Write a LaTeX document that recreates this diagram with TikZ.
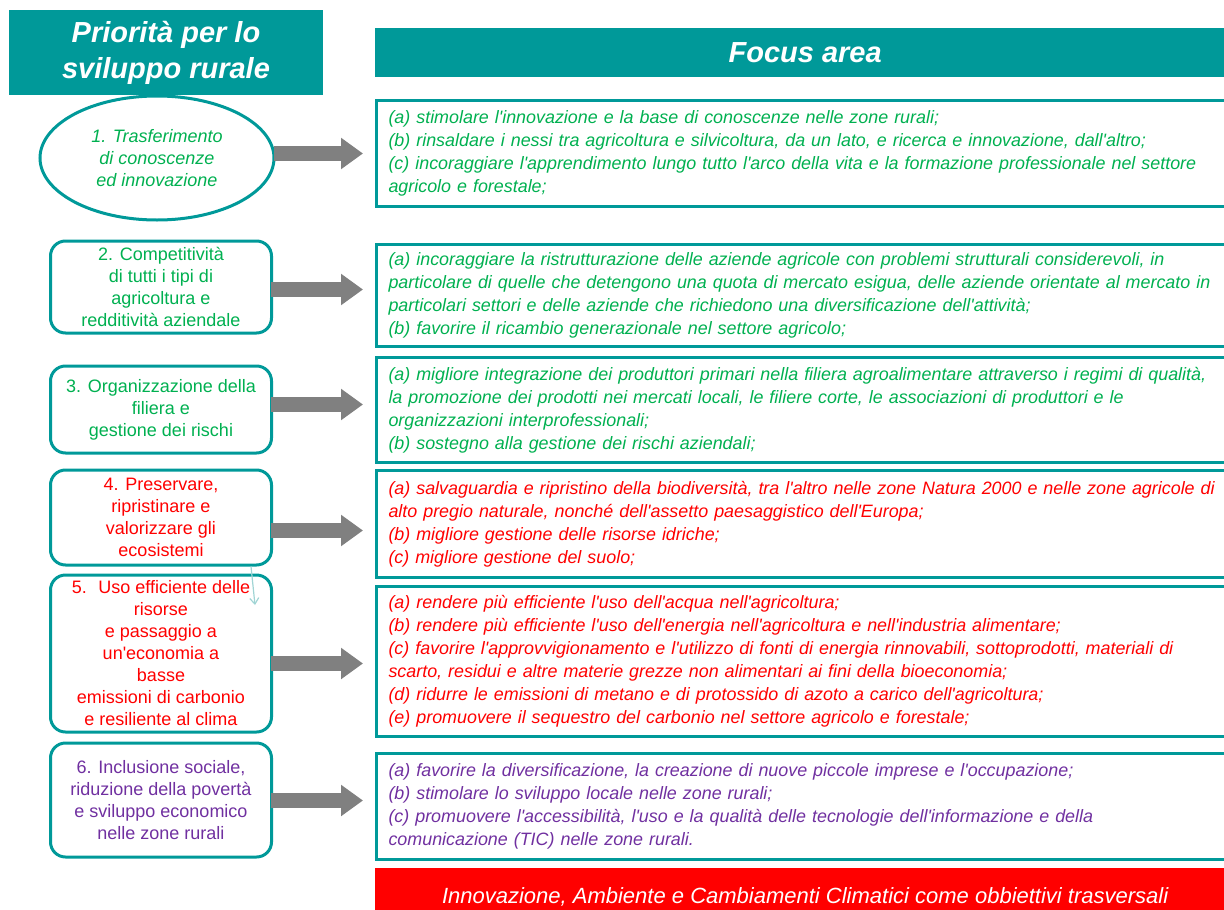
\documentclass[tikz,border=0pt]{standalone}
\usepackage{fontspec}
\setmainfont{Liberation Sans}[Ligatures=TeXOff]
\usetikzlibrary{shapes.geometric,arrows.meta,calc}
\definecolor{tealbox}{RGB}{0,153,153}
\definecolor{txtgreen}{RGB}{0,176,80}
\definecolor{txtred}{RGB}{255,0,0}
\definecolor{txtpurple}{RGB}{112,48,160}
\definecolor{arrgray}{RGB}{128,128,128}
\definecolor{paleteal}{RGB}{160,212,212}
\begin{document}
\begin{tikzpicture}[x=1pt,y=-1pt,
	header/.style={fill=tealbox, text=white, align=center, inner sep=0pt,
		font=\fontsize{29}{36}\selectfont\bfseries\itshape},
	prio/.style={draw=tealbox, line width=3pt, rounded corners=15pt, minimum width=221pt,
		align=center, inner sep=0pt, font=\fontsize{18}{22}\selectfont},
	focus/.style={draw=tealbox, line width=3pt, anchor=north west, text width=900pt,
		inner xsep=12pt, inner ysep=0pt, align=left, font=\fontsize{17.9}{23}\selectfont\itshape},
	bigarrow/.style={arrgray, line width=15pt, -{Triangle[length=22pt,width=30pt]}},
	thinarrow/.style={paleteal, line width=1.2pt, -{Straight Barb[length=6pt,width=9pt]}}]
	\useasboundingbox (0,0) rectangle (1224,910);
	\clip (0,0) rectangle (1224,910);
	% headers
	\node[header, minimum width=314pt, minimum height=85pt] (hprio) at (166,52.5) {Priorità per lo\\sviluppo rurale};
	\node[header, anchor=north west, minimum width=860pt, minimum height=49pt] (hfocus) at (375,28) {Focus area};
	% priorities
	\node[ellipse, draw=tealbox, line width=3pt, minimum width=234pt, minimum height=124pt, inner sep=0pt,
		align=center, text=txtgreen, font=\fontsize{18}{22}\selectfont\itshape] (e1) at (157,158)
		{1. Trasferimento\\di conoscenze\\ed innovazione};
	\node[prio, text=txtgreen, minimum height=92pt] (p2) at (161,287)
		{2. Competitività\\di tutti i tipi di\\agricoltura e\\redditività aziendale};
	\node[prio, text=txtgreen, minimum height=87pt] (p3) at (161,409.5)
		{3. Organizzazione della\\filiera e\\gestione dei rischi};
	\node[prio, text=txtred, minimum height=95pt] (p4) at (161,517.5)
		{4. Preservare,\\ripristinare e\\valorizzare gli\\ecosistemi};
	\node[prio, text=txtred, minimum height=157pt] (p5) at (161,653.5)
		{5.~ Uso efficiente delle\\risorse\\e passaggio a\\un'economia a\\basse\\emissioni di carbonio\\e resiliente al clima};
	\node[prio, text=txtpurple, minimum height=114pt] (p6) at (161,800)
		{6. Inclusione sociale,\\riduzione della povertà\\e sviluppo economico\\nelle zone rurali};
	% focus areas
	\node[focus, text=txtgreen, minimum height=106pt] (f1) at (375,99)
		{(a) stimolare l'innovazione e la base di conoscenze nelle zone rurali;\\
		(b) rinsaldare i nessi tra agricoltura e silvicoltura, da un lato, e ricerca e innovazione, dall'altro;\\
		(c) incoraggiare l'apprendimento lungo tutto l'arco della vita e la formazione professionale nel settore\\
		agricolo e forestale;};
	\node[focus, text=txtgreen, minimum height=102pt] (f2) at (375,243)
		{(a) incoraggiare la ristrutturazione delle aziende agricole con problemi strutturali considerevoli, in\\
		particolare di quelle che detengono una quota di mercato esigua, delle aziende orientate al mercato in\\
		particolari settori e delle aziende che richiedono una diversificazione dell'attività;\\
		(b) favorire il ricambio generazionale nel settore agricolo;};
	\node[focus, text=txtgreen, minimum height=105pt] (f3) at (375,356)
		{(a) migliore integrazione dei produttori primari nella filiera agroalimentare attraverso i regimi di qualità,\\
		la promozione dei prodotti nei mercati locali, le filiere corte, le associazioni di produttori e le\\
		organizzazioni interprofessionali;\\
		(b) sostegno alla gestione dei rischi aziendali;};
	\node[focus, text=txtred, minimum height=107pt] (f4) at (375,469)
		{(a) salvaguardia e ripristino della biodiversità, tra l'altro nelle zone Natura 2000 e nelle zone agricole di\\
		alto pregio naturale, nonché dell'assetto paesaggistico dell'Europa;\\
		(b) migliore gestione delle risorse idriche;\\
		(c) migliore gestione del suolo;};
	\node[focus, text=txtred, minimum height=150pt] (f5) at (375,585)
		{(a) rendere più efficiente l'uso dell'acqua nell'agricoltura;\\
		(b) rendere più efficiente l'uso dell'energia nell'agricoltura e nell'industria alimentare;\\
		(c) favorire l'approvvigionamento e l'utilizzo di fonti di energia rinnovabili, sottoprodotti, materiali di\\
		scarto, residui e altre materie grezze non alimentari ai fini della bioeconomia;\\
		(d) ridurre le emissioni di metano e di protossido di azoto a carico dell'agricoltura;\\
		(e) promuovere il sequestro del carbonio nel settore agricolo e forestale;};
	\node[focus, text=txtpurple, minimum height=106pt] (f6) at (375,752)
		{(a) favorire la diversificazione, la creazione di nuove piccole imprese e l'occupazione;\\
		(b) stimolare lo sviluppo locale nelle zone rurali;\\
		(c) promuovere l'accessibilità, l'uso e la qualità delle tecnologie dell'informazione e della\\
		comunicazione (TIC) nelle zone rurali.};
	\node[fill=txtred, text=white, anchor=north west, minimum width=860pt, minimum height=58pt, inner sep=0pt,
		font=\fontsize{22}{24}\selectfont\itshape] (cross) at (375,868)
		{Innovazione, Ambiente e Cambiamenti Climatici come obbiettivi trasversali};
	% arrows
	\foreach \a/\b/\d in {e1/f1/0, p2/f2/-6, p3/f3/-5.5, p4/f4/6.5, p5/f5/2, p6/f6/-6}
		\draw[bigarrow] ($(\a.east |- \b.west)+(-2,\d)$) -- ($(\b.west)+(-12,\d)$);
	\coordinate (t5) at (255,605);
	\draw[thinarrow] ([xshift=-22pt]p4.south east) -- (t5);
\end{tikzpicture}
\end{document}
